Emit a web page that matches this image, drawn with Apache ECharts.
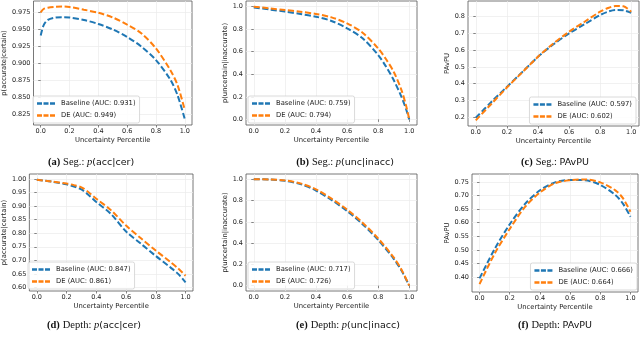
<!DOCTYPE html>
<html>
<head>
<meta charset="utf-8">
<script src="https://cdn.jsdelivr.net/npm/echarts@6/dist/echarts.min.js"></script>
<style>
  html, body { margin: 0; padding: 0; background: #fff; }
  #chart { width: 640px; height: 340px; }
</style>
</head>
<body>
<div id="chart"></div>
<script>
// uncertainty percentile ticks (shared by every panel)
const xTicks = [0, 0.2, 0.4, 0.6, 0.8, 1.0];

// (a) Seg.: p(acc|cer)
const xSegAcc = [0, 0.02, 0.05, 0.1, 0.15, 0.2, 0.3, 0.4, 0.5, 0.6, 0.7, 0.8, 0.9, 0.95, 1.0];
const baseSegAcc = [0.941, 0.956, 0.964, 0.9675, 0.968, 0.9675, 0.964, 0.958, 0.950, 0.939, 0.9245, 0.905, 0.876, 0.853, 0.818];
const deSegAcc = [0.975, 0.980, 0.982, 0.9833, 0.9838, 0.983, 0.979, 0.9745, 0.9676, 0.957, 0.944, 0.922, 0.890, 0.868, 0.8315];
const yTicksSegAcc = [0.825, 0.85, 0.875, 0.9, 0.925, 0.95, 0.975];

// (b) Seg.: p(unc|inacc)
const xSegUnc = [0, 0.1, 0.2, 0.3, 0.4, 0.5, 0.6, 0.7, 0.8, 0.85, 0.9, 0.95, 0.98, 1.0];
const baseSegUnc = [0.993, 0.975, 0.956, 0.935, 0.911, 0.873, 0.808, 0.719, 0.571, 0.47, 0.349, 0.20, 0.09, 0.0];
const deSegUnc = [1.0, 0.985, 0.97, 0.955, 0.935, 0.905, 0.852, 0.769, 0.63, 0.535, 0.423, 0.26, 0.12, 0.0];
const yTicksUnit = [0, 0.2, 0.4, 0.6, 0.8, 1.0];

// (c) Seg.: PAvPU
const xSegPav = [0, 0.1, 0.2, 0.3, 0.4, 0.5, 0.6, 0.7, 0.8, 0.85, 0.9, 0.95, 1.0];
const baseSegPav = [0.195, 0.29, 0.38, 0.47, 0.56, 0.635, 0.70, 0.755, 0.81, 0.83, 0.84, 0.838, 0.824];
const deSegPav = [0.18, 0.278, 0.376, 0.468, 0.56, 0.64, 0.71, 0.77, 0.83, 0.852, 0.864, 0.862, 0.83];
const yTicksSegPav = [0.2, 0.3, 0.4, 0.5, 0.6, 0.7, 0.8];

// (d) Depth: p(acc|cer)
const xDepAcc = [0, 0.1, 0.2, 0.25, 0.3, 0.35, 0.4, 0.5, 0.6, 0.7, 0.8, 0.9, 0.95, 1.0];
const baseDepAcc = [0.997, 0.99, 0.98, 0.972, 0.961, 0.94, 0.915, 0.87, 0.806, 0.761, 0.716, 0.673, 0.65, 0.619];
const deDepAcc = [0.997, 0.99, 0.983, 0.977, 0.969, 0.95, 0.927, 0.884, 0.828, 0.781, 0.736, 0.693, 0.67, 0.643];
const yTicksDepAcc = [0.6, 0.65, 0.7, 0.75, 0.8, 0.85, 0.9, 0.95, 1.0];

// (e) Depth: p(unc|inacc)
const xDepUnc = [0, 0.1, 0.2, 0.3, 0.4, 0.5, 0.6, 0.7, 0.8, 0.9, 0.95, 1.0];
const baseDepUnc = [1.0, 0.998, 0.986, 0.955, 0.895, 0.806, 0.702, 0.578, 0.43, 0.253, 0.142, 0.0];
const deDepUnc = [1.0, 0.999, 0.99, 0.962, 0.906, 0.818, 0.716, 0.592, 0.444, 0.266, 0.152, 0.0];

// (f) Depth: PAvPU
const xDepPav = [0, 0.1, 0.2, 0.3, 0.4, 0.5, 0.6, 0.7, 0.8, 0.9, 0.95, 1.0];
const baseDepPav = [0.395, 0.503, 0.594, 0.668, 0.719, 0.748, 0.757, 0.756, 0.739, 0.702, 0.67, 0.622];
const deDepPav = [0.374, 0.486, 0.577, 0.657, 0.711, 0.745, 0.756, 0.759, 0.748, 0.719, 0.69, 0.64];
const yTicksDepPav = [0.4, 0.45, 0.5, 0.55, 0.6, 0.65, 0.7, 0.75];

const BLUE = '#1f77b4', ORANGE = '#ff7f0e';
const SANS = 'DejaVu Sans';
const SERIF = 'Liberation Serif';
const FS = 6.8;

// layout of each panel
const panels = [
  { x: xSegAcc, base: baseSegAcc, de: deSegAcc, aucB: '0.931', aucD: '0.949', yTicks: yTicksSegAcc, dec: 3,
    ymin: 0.8095, ymax: 0.9918, ylabel: 'p(accurate|certain)', nameGap: 24,
    grid: { left: 31, top: 1, width: 161, height: 124 }, leg: { left: 33 },
    cap: { x: 91, y: 163, a: '(a)', t: 'Seg.: ', m: 'acc|cer' } },
  { x: xSegUnc, base: baseSegUnc, de: deSegUnc, aucB: '0.759', aucD: '0.794', yTicks: yTicksUnit, dec: 1,
    ymin: -0.05, ymax: 1.05, ylabel: 'p(uncertain|inaccurate)', nameGap: 15,
    grid: { left: 246, top: 1, width: 171, height: 124 }, leg: { left: 248 },
    cap: { x: 345, y: 163, a: '(b)', t: 'Seg.: ', m: 'unc|inacc' } },
  { x: xSegPav, base: baseSegPav, de: deSegPav, aucB: '0.597', aucD: '0.602', yTicks: yTicksSegPav, dec: 1,
    ymin: 0.146, ymax: 0.894, ylabel: 'PAvPU', nameGap: 15,
    grid: { left: 468, top: 1, width: 171, height: 125 }, leg: { right: 4 },
    cap: { x: 555, y: 163, a: '(c)', t: 'Seg.: ', s: 'PAvPU' } },
  { x: xDepAcc, base: baseDepAcc, de: deDepAcc, aucB: '0.847', aucD: '0.861', yTicks: yTicksDepAcc, dec: 2,
    ymin: 0.587, ymax: 1.018, ylabel: 'p(accurate|certain)', nameGap: 19,
    grid: { left: 27, top: 174, width: 166, height: 117 }, leg: { left: 28 },
    cap: { x: 94, y: 326, a: '(d)', t: 'Depth: ', m: 'acc|cer' } },
  { x: xDepUnc, base: baseDepUnc, de: deDepUnc, aucB: '0.717', aucD: '0.726', yTicks: yTicksUnit, dec: 1,
    ymin: -0.05, ymax: 1.05, ylabel: 'p(uncertain|inaccurate)', nameGap: 15,
    grid: { left: 246, top: 174, width: 171, height: 117 }, leg: { left: 248 },
    cap: { x: 348, y: 326, a: '(e)', t: 'Depth: ', m: 'unc|inacc' } },
  { x: xDepPav, base: baseDepPav, de: deDepPav, aucB: '0.666', aucD: '0.664', yTicks: yTicksDepPav, dec: 2,
    ymin: 0.345, ymax: 0.779, ylabel: 'PAvPU', nameGap: 19,
    grid: { left: 472, top: 174, width: 166, height: 118 }, leg: { right: 3 },
    cap: { x: 555, y: 326, a: '(f)', t: 'Depth: ', s: 'PAvPU' } }
];

const grids = [], xAxes = [], yAxes = [], series = [], legends = [], titles = [];
const dash = 'path://M0,0H5V2.5H0Z M6.5,0H11.5V2.5H6.5Z M13,0H18V2.5H13Z';

panels.forEach((p, i) => {
  grids.push(Object.assign({ show: true, borderColor: '#555', borderWidth: 0.8, backgroundColor: '#fff' }, p.grid));
  xAxes.push({
    type: 'value', gridIndex: i, min: -0.05, max: 1.05,
    name: 'Uncertainty Percentile', nameLocation: 'middle', nameGap: 12,
    nameTextStyle: { fontFamily: SANS, fontSize: FS, color: '#222' },
    axisLine: { show: false },
    axisTick: { show: true, length: 2.5, customValues: xTicks, lineStyle: { color: '#555', width: 0.7 } },
    axisLabel: { customValues: xTicks, fontFamily: SANS, fontSize: 6.5, color: '#222', margin: 3,
      formatter: v => v.toFixed(1) },
    splitLine: { show: true, customValues: xTicks, lineStyle: { color: '#ebebeb', width: 0.7 } }
  });
  yAxes.push({
    type: 'value', gridIndex: i, min: p.ymin, max: p.ymax,
    name: p.ylabel, nameLocation: 'middle', nameGap: p.nameGap, nameRotate: 90,
    nameTextStyle: { fontFamily: SANS, fontSize: FS, color: '#222' },
    axisLine: { show: false },
    axisTick: { show: true, length: 2.5, customValues: p.yTicks, lineStyle: { color: '#555', width: 0.7 } },
    axisLabel: { customValues: p.yTicks, fontFamily: SANS, fontSize: 6.5, color: '#222', margin: 3,
      formatter: v => v.toFixed(p.dec) },
    splitLine: { show: true, customValues: p.yTicks, lineStyle: { color: '#ebebeb', width: 0.7 } }
  });
  const nB = 'Baseline (AUC: ' + p.aucB + ')';
  const nD = 'DE (AUC: ' + p.aucD + ')';
  [[nB, p.base, BLUE], [nD, p.de, ORANGE]].forEach(([name, ys, color]) => {
    series.push({
      name: name, type: 'line', xAxisIndex: i, yAxisIndex: i,
      data: p.x.map((x, k) => [x, ys[k]]),
      showSymbol: false, smooth: 0.3, color: color,
      lineStyle: { color: color, width: 2, type: [6, 2.6] },
      emphasis: { disabled: true }
    });
  });
  legends.push(Object.assign({
    data: [nB, nD], orient: 'vertical', top: p.grid.top + p.grid.height - 29,
    icon: dash, itemWidth: 18, itemHeight: 2.5, itemGap: 5,
    padding: [4, 4, 4, 4], backgroundColor: 'rgba(255,255,255,0.85)',
    borderColor: '#d0d0d0', borderWidth: 0.8, borderRadius: 2,
    selectedMode: false,
    textStyle: { fontFamily: SANS, fontSize: FS, color: '#222', padding: [0, 0, 0, 1] }
  }, p.leg));
  const c = p.cap;
  const body = c.m ? '{i|p}{s|(' + c.m + ')}' : '{s|' + c.s + '}';
  titles.push({
    text: '{b|' + c.a + '} {r|' + c.t + '}' + body,
    left: c.x, top: c.y - 6, textAlign: 'center', padding: 0,
    textStyle: {
      fontWeight: 'normal', fontSize: 10.5,
      rich: {
        b: { fontFamily: SERIF, fontWeight: 'bold', fontSize: 10.5, color: '#111' },
        r: { fontFamily: SERIF, fontWeight: 'normal', fontSize: 10.5, color: '#111' },
        i: { fontFamily: SERIF, fontStyle: 'italic', fontWeight: 'normal', fontSize: 10.5, color: '#111' },
        s: { fontFamily: SANS, fontWeight: 'normal', fontSize: 9.5, color: '#111' }
      }
    }
  });
});

const chart = echarts.init(document.getElementById('chart'), null, { renderer: 'canvas' });
chart.setOption({
  backgroundColor: '#fff',
  animation: false,
  title: titles,
  grid: grids,
  xAxis: xAxes,
  yAxis: yAxes,
  legend: legends,
  series: series
});
</script>
</body>
</html>
